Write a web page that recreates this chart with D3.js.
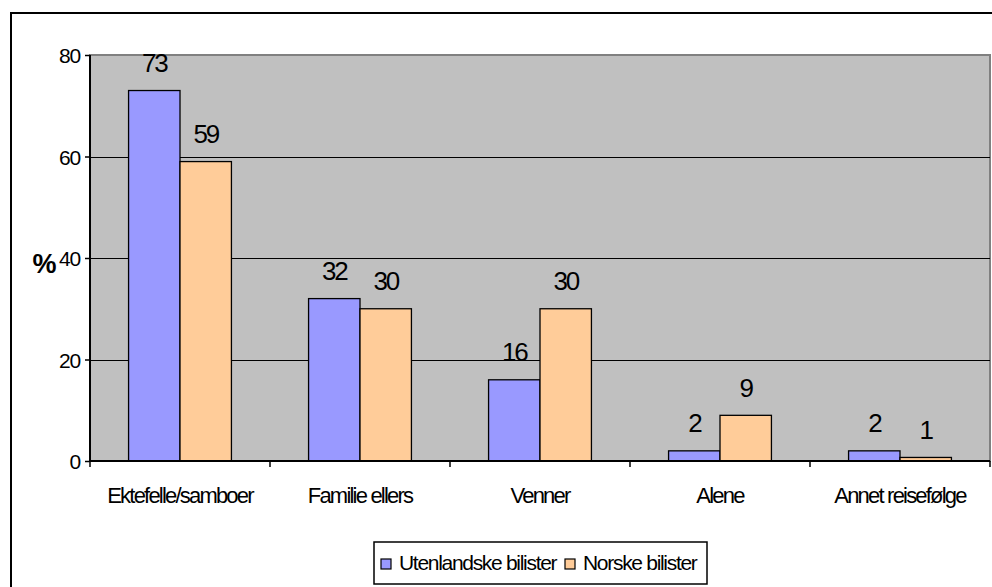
<!DOCTYPE html>
<html><head><meta charset="utf-8">
<script src="https://cdn.jsdelivr.net/npm/d3@7"></script>
<style>
html,body{margin:0;padding:0;background:#fff;}
svg{display:block;}
text{font-family:"Liberation Sans",Arial,sans-serif;fill:#000;}
</style></head>
<body>
<svg id="chart" width="992" height="587"></svg>
<script>
const categories = ["Ektefelle/samboer","Familie ellers","Venner","Alene","Annet reisefølge"];
const seriesNames = ["Utenlandske bilister","Norske bilister"];
const utenlandske = [73, 32, 16, 2, 2];
const norske = [59, 30, 30, 9, 0.7];
const yTicks = [0, 20, 40, 60, 80];
const colors = ["#9999FF", "#FFCC99"];

const svg = d3.select("#chart");
const plot = {left: 90, right: 990, top: 55, bottom: 461};

// outer chart border (extends beyond the visible frame on right/bottom)
svg.append("rect").attr("x", 11).attr("y", 13).attr("width", 1000).attr("height", 600)
  .attr("fill", "#fff").attr("stroke", "#000").attr("stroke-width", 2);

const x0 = d3.scaleBand().domain(categories).range([plot.left, plot.right]).paddingInner(0).paddingOuter(0);
const x1 = d3.scaleBand().domain(seriesNames).range([0, x0.bandwidth()]).paddingInner(0).paddingOuter(0.75);
const y = d3.scaleLinear().domain([0, 80]).range([plot.bottom, plot.top]);

// plot background
svg.append("rect").attr("x", plot.left).attr("y", plot.top)
  .attr("width", plot.right - plot.left).attr("height", plot.bottom - plot.top)
  .attr("fill", "#C0C0C0").attr("stroke", "#808080").attr("stroke-width", 2);

// gridlines
svg.append("g").selectAll("line").data(yTicks.filter(t => t > 0 && t < 80)).join("line")
  .attr("x1", plot.left).attr("x2", plot.right)
  .attr("y1", d => Math.round(y(d)) + 0.5).attr("y2", d => Math.round(y(d)) + 0.5)
  .attr("stroke", "#000").attr("stroke-width", 1);

// bars
const data = categories.map((c, i) => ({cat: c, vals: [utenlandske[i], norske[i]]}));
const groups = svg.append("g").selectAll("g").data(data).join("g")
  .attr("transform", d => `translate(${x0(d.cat)},0)`);
groups.selectAll("rect").data(d => d.vals.map((v, j) => ({name: seriesNames[j], v, j}))).join("rect")
  .attr("x", d => x1(d.name)).attr("width", x1.bandwidth())
  .attr("y", d => y(d.v)).attr("height", d => y(0) - y(d.v))
  .attr("fill", d => colors[d.j]).attr("stroke", "#000").attr("stroke-width", 1.3);

// value labels
const fmt = d3.format(".0f");
groups.selectAll("text.val").data(d => d.vals.map((v, j) => ({name: seriesNames[j], v, j}))).join("text")
  .attr("class", "val")
  .attr("x", d => x1(d.name) + x1.bandwidth() / 2)
  .attr("y", d => y(d.v) - 18.5)
  .attr("text-anchor", "middle")
  .style("font-size", "26px").style("letter-spacing", "-2.2px")
  .text(d => fmt(d.v));

// y axis
const yAxis = d3.axisLeft(y).tickValues(yTicks).tickSize(5).tickPadding(5).tickFormat(d3.format("d"));
const gy = svg.append("g").attr("transform", `translate(${plot.left},0)`).call(yAxis);
gy.select(".domain").attr("stroke", "#000").attr("stroke-width", 2).attr("d", `M0,${plot.top}V${plot.bottom+1}`);
gy.selectAll(".tick line").attr("stroke", "#000").attr("stroke-width", 1.5);
gy.selectAll(".tick text").style("font-size", "21px").style("letter-spacing", "-1.2px")
  .style("font-family", '"Liberation Sans",Arial,sans-serif').attr("fill", "#000").attr("dy", "0.36em");

// x axis
const xAxis = d3.axisBottom(x0).tickSize(0).tickFormat("");
const gx = svg.append("g").attr("transform", `translate(0,${plot.bottom})`).call(xAxis);
gx.select(".domain").attr("stroke", "#000").attr("stroke-width", 2).attr("d", `M${plot.left},0H${plot.right}`);
const bounds = categories.map(c => x0(c)).concat([plot.right]);
gx.selectAll("line.sep").data(bounds).join("line").attr("class", "sep")
  .attr("x1", d => d).attr("x2", d => d).attr("y1", 0).attr("y2", 6)
  .attr("stroke", "#000").attr("stroke-width", 1.5);
gx.selectAll("text.cat").data(categories).join("text").attr("class", "cat")
  .attr("x", d => x0(d) + x0.bandwidth() / 2).attr("y", 42)
  .attr("text-anchor", "middle")
  .style("font-size", "22px").style("letter-spacing", "-1.8px")
  .text(d => d);

// y axis title
svg.append("text").attr("x", 44).attr("y", 273).attr("text-anchor", "middle")
  .style("font-size", "27px").style("font-weight", "bold").style("letter-spacing", "-1px").text("%");

// legend
const leg = svg.append("g");
leg.append("rect").attr("x", 374).attr("y", 542).attr("width", 333).attr("height", 42)
  .attr("fill", "#fff").attr("stroke", "#000").attr("stroke-width", 1.5);
const legX = [381, 565];
seriesNames.forEach((n, i) => {
  leg.append("rect").attr("x", legX[i]).attr("y", 559).attr("width", 10).attr("height", 10)
    .attr("fill", colors[i]).attr("stroke", "#000").attr("stroke-width", 1.2);
  leg.append("text").attr("x", legX[i] + 18).attr("y", 570)
    .style("font-size", "21px").style("letter-spacing", "-1.3px").text(n);
});
</script>
</body></html>
